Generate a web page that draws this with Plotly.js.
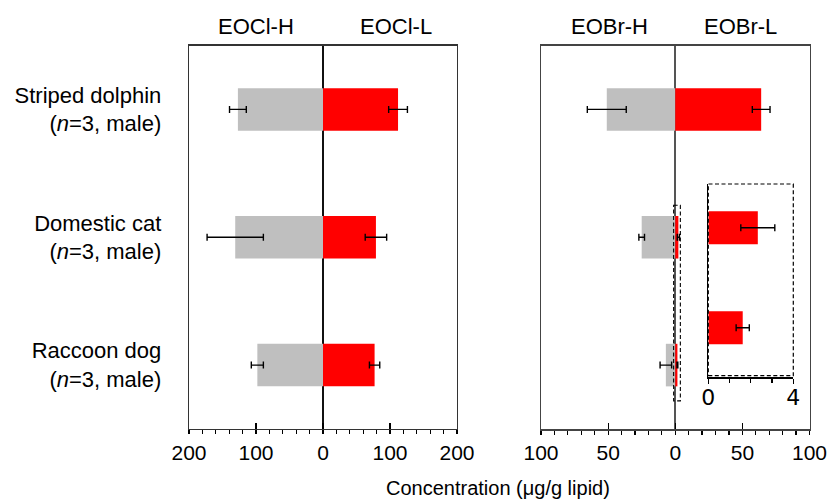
<!DOCTYPE html>
<html>
<head>
<meta charset="utf-8">
<script src="https://cdn.plot.ly/plotly-3.0.1.min.js"></script>
<style>html,body{margin:0;padding:0;background:#fff;}</style>
</head>
<body>
<div id="chart" style="width:829px;height:500px;"></div>
<script>
// ---- data ----
const categories = ['Striped dolphin', 'Domestic cat', 'Raccoon dog'];
const categoryLabels = ['Striped dolphin<br>(<i>n</i>=3, male)', 'Domestic cat<br>(<i>n</i>=3, male)', 'Raccoon dog<br>(<i>n</i>=3, male)'];
const eoclH = [127, 131, 98];
const eoclHErr = [12.5, 42, 9];
const eoclL = [112, 79, 77];
const eoclLErr = [14, 16, 7.7];
const eobrH = [51, 25, 7];
const eobrHErr = [14.5, 2.1, 4.3];
const eobrL = [64, 2.33, 1.62];
const eobrLErr = [6.6, 0.8, 0.31];
const insetCategories = ['Domestic cat', 'Raccoon dog'];
const insetEobrL = [2.33, 1.62];
const insetEobrLErr = [0.8, 0.31];
const leftTickVals = [-200, -100, 0, 100, 200];
const leftTickText = ['200', '100', '0', '100', '200'];
const rightTickVals = [-100, -50, 0, 50, 100];
const rightTickText = ['100', '50', '0', '50', '100'];
const headers = ['EOCl-H', 'EOCl-L', 'EOBr-H', 'EOBr-L'];

// ---- styles ----
const W = 829, H = 500;
const GRAY = '#bfbfbf', RED = '#ff0000';
const FONT = 'Liberation Sans, Arial, sans-serif';
const px = v => v / W;
const py = v => 1 - v / H;
const BARW = 0.333;

function neg(a) { return a.map(v => -v); }
function errBar(arr) {
  return {type: 'data', array: arr, symmetric: true, visible: true, color: '#000', thickness: 1.4, width: 3.5};
}

const traces = [
  {type: 'bar', orientation: 'h', x: neg(eoclH), y: categories, xaxis: 'x', yaxis: 'y',
   marker: {color: GRAY}, width: BARW, error_x: errBar(eoclHErr), hoverinfo: 'skip', showlegend: false},
  {type: 'bar', orientation: 'h', x: eoclL, y: categories, xaxis: 'x', yaxis: 'y',
   marker: {color: RED}, width: BARW, error_x: errBar(eoclLErr), hoverinfo: 'skip', showlegend: false},
  {type: 'bar', orientation: 'h', x: neg(eobrH), y: categories, xaxis: 'x2', yaxis: 'y2',
   marker: {color: GRAY}, width: BARW, error_x: errBar(eobrHErr), hoverinfo: 'skip', showlegend: false},
  {type: 'bar', orientation: 'h', x: eobrL, y: categories, xaxis: 'x2', yaxis: 'y2',
   marker: {color: RED}, width: BARW, error_x: errBar(eobrLErr), hoverinfo: 'skip', showlegend: false},
  {type: 'bar', orientation: 'h', x: insetEobrL, y: insetCategories, xaxis: 'x3', yaxis: 'y3',
   marker: {color: RED}, width: 0.33, error_x: errBar(insetEobrLErr), hoverinfo: 'skip', showlegend: false},
  // empty traces to anchor the overlay tick axes
  {type: 'scatter', x: [], y: [], xaxis: 'x4', yaxis: 'y', hoverinfo: 'skip', showlegend: false},
  {type: 'scatter', x: [], y: [], xaxis: 'x5', yaxis: 'y2', hoverinfo: 'skip', showlegend: false}
];

const yTop = py(45.5), yBot = py(429);
const leftDom = [px(189), px(457)];
const rightDom = [px(541), px(809.5)];

const baseX = {
  showgrid: false, showline: true, mirror: true, linewidth: 1.3,
  ticks: 'outside', ticklen: 4, tickwidth: 1.2, tickcolor: '#000',
  zeroline: true, zerolinewidth: 1.2,
  tickfont: {family: FONT, size: 21, color: '#000'},
  fixedrange: true
};

const HF = {family: FONT, size: 22, color: '#000'};

const layout = {
  width: W, height: H,
  margin: {l: 0, r: 0, t: 0, b: 0, pad: 0},
  paper_bgcolor: '#fff', plot_bgcolor: 'rgba(0,0,0,0)',
  barmode: 'overlay',
  showlegend: false,
  font: {family: FONT, color: '#000'},
  xaxis: Object.assign({}, baseX, {
    domain: leftDom, anchor: 'y', range: [-200, 200],
    tickmode: 'array', tickvals: leftTickVals, ticktext: leftTickText,
    linecolor: '#333', zerolinecolor: '#111',
    minor: {dtick: 20, ticks: 'outside', ticklen: 4, tickwidth: 1.2, tickcolor: '#000', showgrid: false}
  }),
  xaxis2: Object.assign({}, baseX, {
    domain: rightDom, anchor: 'y2', range: [-100, 100],
    tickmode: 'array', tickvals: rightTickVals, ticktext: rightTickText,
    linecolor: '#444', linewidth: 1.5, zerolinecolor: '#555', zerolinewidth: 1.6,
    minor: {dtick: 10, ticks: 'outside', ticklen: 4, tickwidth: 1.2, tickcolor: '#000', showgrid: false}
  }),
  xaxis3: {
    domain: [px(708.3), px(793.3)], anchor: 'y3', range: [0, 4],
    showgrid: false, showline: true, linecolor: '#000', linewidth: 1.3, zeroline: false,
    tickmode: 'array', tickvals: [0, 4], ticktext: ['0', '4'],
    ticks: 'outside', ticklen: 5, tickwidth: 1.2, tickcolor: '#000', ticklabelstandoff: -5,
    tickfont: {family: 'DejaVu Sans, sans-serif', size: 22, color: '#000'},
    minor: {dtick: 1, ticks: 'outside', ticklen: 4, tickwidth: 1.2, tickcolor: '#000', showgrid: false},
    fixedrange: true
  },
  xaxis4: {
    overlaying: 'x', anchor: 'y', range: [-200, 200], side: 'bottom',
    showgrid: false, showline: false, zeroline: false, showticklabels: false,
    tickmode: 'array', tickvals: leftTickVals, ticks: 'inside', ticklen: 6, tickwidth: 1.2, tickcolor: '#000',
    fixedrange: true
  },
  xaxis5: {
    overlaying: 'x2', anchor: 'y2', range: [-100, 100], side: 'bottom',
    showgrid: false, showline: false, zeroline: false, showticklabels: false,
    tickmode: 'array', tickvals: rightTickVals, ticks: 'inside', ticklen: 6, tickwidth: 1.2, tickcolor: '#000',
    fixedrange: true
  },
  yaxis: {
    domain: [yBot, yTop], anchor: 'x', type: 'category',
    categoryorder: 'array', categoryarray: categories,
    range: [2.5, -0.5],
    tickmode: 'array', tickvals: categories, ticktext: categoryLabels,
    showgrid: false, showline: true, mirror: true, linecolor: '#333', linewidth: 1.3,
    ticks: '', ticklabelstandoff: 22, zeroline: false,
    tickfont: HF,
    fixedrange: true
  },
  yaxis2: {
    domain: [yBot, yTop], anchor: 'x2', type: 'category',
    categoryorder: 'array', categoryarray: categories,
    range: [2.5, -0.5],
    showticklabels: false, showgrid: false, showline: true, mirror: true,
    linecolor: '#444', linewidth: 1.5, ticks: '', zeroline: false,
    fixedrange: true
  },
  yaxis3: {
    domain: [py(377.3), py(184)], anchor: 'x3', type: 'category',
    categoryorder: 'array', categoryarray: insetCategories,
    range: [1.495, -0.438],
    showticklabels: false, showgrid: false, showline: true,
    linecolor: '#000', linewidth: 1.3, ticks: '', zeroline: false,
    fixedrange: true
  },
  shapes: [
    // dashed frame of the inset
    {type: 'rect', xref: 'paper', yref: 'paper', x0: px(708.3), x1: px(793.3), y0: py(375.7), y1: py(184),
     line: {color: '#000', width: 1.2, dash: '4px,2.5px'}, fillcolor: 'rgba(0,0,0,0)'},
    // dashed box marking the zoomed region in the main panel
    {type: 'rect', xref: 'x2', yref: 'y2', x0: -1.2, x1: 3.8, y0: 0.75, y1: 2.28,
     line: {color: '#000', width: 1.1, dash: '4px,2.5px'}, fillcolor: 'rgba(0,0,0,0)'}
  ],
  annotations: [
    {text: headers[0], xref: 'paper', yref: 'paper', x: px(256), y: py(26), xanchor: 'center', yanchor: 'middle', showarrow: false, font: HF},
    {text: headers[1], xref: 'paper', yref: 'paper', x: px(395.5), y: py(26), xanchor: 'center', yanchor: 'middle', showarrow: false, font: HF},
    {text: headers[2], xref: 'paper', yref: 'paper', x: px(609.5), y: py(26), xanchor: 'center', yanchor: 'middle', showarrow: false, font: HF},
    {text: headers[3], xref: 'paper', yref: 'paper', x: px(740.5), y: py(26), xanchor: 'center', yanchor: 'middle', showarrow: false, font: HF},
    {text: 'Concentration (μg/g lipid)', xref: 'paper', yref: 'paper', x: px(497.5), y: py(488), xanchor: 'center', yanchor: 'middle', showarrow: false, font: {family: FONT, size: 20, color: '#000'}}
  ]
};

Plotly.newPlot('chart', traces, layout, {staticPlot: true, displayModeBar: false});
</script>
</body>
</html>
